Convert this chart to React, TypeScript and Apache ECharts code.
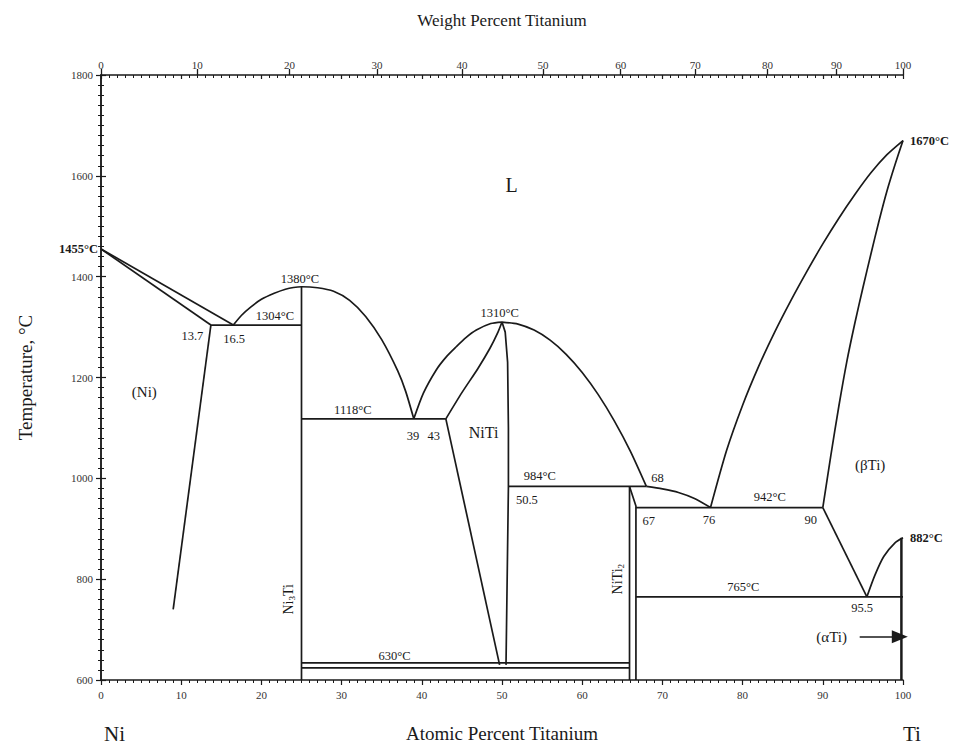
import React, { useEffect, useRef } from "react";
import * as echarts from "echarts";

const FONT = "'Liberation Serif', 'DejaVu Serif', 'Times New Roman', serif";
const INK = "#1a1a1a";

// Axis ticks
const atomicTicks = [0, 10, 20, 30, 40, 50, 60, 70, 80, 90, 100];
const tempTicks = [600, 800, 1000, 1200, 1400, 1600, 1800];
const weightLabels = [0, 10, 20, 30, 40, 50, 60, 70, 80, 90, 100];
// atomic-% positions of the weight-% ticks
const weightTickAtomic = [0, 12.0, 23.5, 34.4, 45.0, 55.1, 64.8, 74.1, 83.1, 91.7, 100];

// Phase boundaries: [atomic % Ti, temperature °C]
const niLiquidus = [[0, 1455], [16.5, 1304]];
const niSolidus = [[0, 1455], [13.7, 1304]];
const niSolvus = [[13.7, 1304], [9.0, 740]];
const eutectic1304 = [[13.7, 1304], [25, 1304]];
const ni3TiLiquidus = [[16.5, 1304], [17.5, 1323], [18.7, 1340], [20, 1355], [21.6, 1367], [23, 1375], [24, 1378.5], [25, 1380], [27, 1378], [29, 1371], [31, 1353], [33, 1321], [35, 1275], [37, 1213], [38, 1172], [39, 1118]];
const ni3TiLine = [[25, 1380], [25, 600]];
const eutectic1118 = [[25, 1118], [43, 1118]];
const niTiLiquidusLeft = [[39, 1118], [40.2, 1169], [41.8, 1215], [43, 1240], [44.3, 1261], [45.5, 1279], [46.8, 1294], [48.6, 1307], [50, 1310]];
const niTiSolidusLeft = [[43, 1118], [45, 1170], [47, 1218], [48.5, 1258], [49.5, 1290], [50, 1310]];
const niTiLeft = [[43, 1118], [49.7, 630]];
const niTiRight = [[50, 1310], [50.4, 1290], [50.7, 1230], [50.8, 1100], [50.8, 984], [50.5, 630]];
const niTiLiquidusRight = [[50, 1310], [52, 1306], [54, 1294], [56, 1274], [58, 1246], [60, 1210], [62, 1166], [64, 1114], [66, 1054], [68, 984]];
const peritectic984 = [[50.8, 984], [68, 984]];
const niTi2Left = [[65.9, 984], [65.9, 600]];
const niTi2Right = [[65.9, 984], [66.7, 945], [66.7, 600]];
const liquidus68to76 = [[68, 984], [70, 979], [72, 972], [74, 960], [76, 942]];
const eutectic942 = [[66.7, 942], [90, 942]];
const betaLiquidus = [[76, 942], [78, 1055], [80, 1145], [82, 1222], [84, 1290], [86, 1352], [88, 1410], [90, 1465], [92, 1516], [94, 1563], [96, 1606], [98, 1642], [100, 1670]];
const betaSolidus = [[90, 942], [91, 1045], [92, 1143], [93, 1232], [94, 1308], [95, 1378], [96, 1445], [97, 1510], [98, 1570], [99, 1622], [100, 1670]];
const betaSolvus = [[90, 942], [95.5, 765]];
const betaTransus = [[95.5, 765], [96.5, 808], [97.6, 845], [99, 872], [100, 882]];
const eutectoid765 = [[66.7, 765], [100, 765]];
const eutectoid630Upper = [[25, 634], [65.9, 634]];
const eutectoid630Lower = [[25, 624], [65.9, 624]];
const alphaTi = [[99.8, 882], [99.8, 600]];
const alphaArrow = [[94.6, 686], [99.6, 686]];

const straightLines = [niLiquidus, niSolidus, niSolvus, eutectic1304, ni3TiLine, eutectic1118, niTiLeft, niTiRight, peritectic984, niTi2Left, niTi2Right, eutectic942, betaSolvus, eutectoid765, eutectoid630Upper, eutectoid630Lower];
const curvedLines = [ni3TiLiquidus, niTiLiquidusLeft, niTiSolidusLeft, niTiLiquidusRight, liquidus68to76, betaLiquidus, betaSolidus, betaTransus];

// Annotations: text placed at [atomic %, °C]
type Ann = { text: string; x: number; y: number; size?: number; bold?: boolean; rotate?: boolean; align?: string };
const annotations: Ann[] = [
  { text: "1455°C", x: 0, y: 1455, bold: true, align: "right" },
  { text: "1670°C", x: 100, y: 1670, bold: true, align: "left" },
  { text: "882°C", x: 100, y: 882, bold: true, align: "left" },
  { text: "L", x: 51.2, y: 1582, size: 20 },
  { text: "1380°C", x: 24.8, y: 1396 },
  { text: "1304°C", x: 21.7, y: 1322 },
  { text: "13.7", x: 11.4, y: 1282 },
  { text: "16.5", x: 16.6, y: 1276 },
  { text: "(Ni)", x: 5.4, y: 1171, size: 15 },
  { text: "1118°C", x: 31.4, y: 1136 },
  { text: "39", x: 38.9, y: 1084 },
  { text: "43", x: 41.5, y: 1084 },
  { text: "NiTi", x: 47.7, y: 1090, size: 16 },
  { text: "1310°C", x: 49.7, y: 1328 },
  { text: "984°C", x: 54.7, y: 1004 },
  { text: "50.5", x: 53.1, y: 957 },
  { text: "68", x: 69.4, y: 1000 },
  { text: "67", x: 68.3, y: 915 },
  { text: "76", x: 75.8, y: 917 },
  { text: "942°C", x: 83.4, y: 962 },
  { text: "90", x: 88.5, y: 917 },
  { text: "(βTi)", x: 95.9, y: 1027, size: 15 },
  { text: "765°C", x: 80.1, y: 785 },
  { text: "95.5", x: 94.9, y: 742 },
  { text: "(αTi)", x: 91.1, y: 686, size: 15 },
  { text: "630°C", x: 36.6, y: 648 },
  { text: "Ni{s|3}Ti", x: 23.4, y: 760, rotate: true, size: 14 },
  { text: "NiTi{s|2}", x: 64.4, y: 800, rotate: true, size: 14 },
];

export default function App() {
  const ref = useRef<HTMLDivElement>(null);
  useEffect(() => {
    if (!ref.current) return;
    const chart = echarts.init(ref.current, null, { renderer: "svg" });
    const lineSeries = (data: number[][], smooth: boolean) => ({
      type: "line",
      data,
      xAxisIndex: 0,
      yAxisIndex: 0,
      showSymbol: false,
      symbol: "none",
      smooth: smooth ? 0.25 : false,
      clip: false,
      silent: true,
      lineStyle: { color: INK, width: 1.7 },
    });
    const series: any[] = [
      ...straightLines.map((d) => lineSeries(d, false)),
      ...curvedLines.map((d) => lineSeries(d, true)),
      {
        type: "line",
        data: alphaTi,
        showSymbol: false,
        symbol: "none",
        clip: false,
        silent: true,
        lineStyle: { color: INK, width: 2.5 },
      },
      {
        type: "line",
        data: [],
        silent: true,
        markLine: {
          silent: true,
          symbol: ["none", "triangle"],
          symbolSize: [13, 16],
          label: { show: false },
          itemStyle: { color: INK },
          lineStyle: { color: INK, width: 1.7, type: "solid" },
          data: [[{ coord: alphaArrow[0] }, { coord: alphaArrow[1] }]],
        },
      },
      {
        type: "custom",
        clip: false,
        silent: true,
        data: annotations.map((a) => [a.x, a.y]),
        renderItem: (params: any, api: any) => {
          const a = annotations[params.dataIndex];
          const p = api.coord([a.x, a.y]);
          let x = p[0];
          if (a.align === "right") x -= 3;
          if (a.align === "left") x += 7;
          const size = a.size || 12.5;
          return {
            type: "text",
            x,
            y: p[1],
            rotation: a.rotate ? Math.PI / 2 : 0,
            style: {
              text: a.text,
              fontFamily: FONT,
              fontSize: size,
              fontWeight: a.bold ? "bold" : "normal",
              fill: INK,
              align: a.align || "center",
              verticalAlign: "middle",
              rich: {
                s: { fontSize: size * 0.65, fontFamily: FONT, fill: INK, padding: [size * 0.5, 0, 0, 0] },
              },
            },
          };
        },
      },
    ];

    const axisLineStyle = { color: INK, width: 1.5 };
    chart.setOption({
      animation: false,
      backgroundColor: "#ffffff",
      grid: { left: 101, right: 61, top: 75, bottom: 69, containLabel: false },
      xAxis: [
        {
          type: "value",
          position: "bottom",
          min: 0,
          max: 100,
          interval: 10,
          axisLine: { show: true, lineStyle: axisLineStyle },
          axisTick: { show: true, length: 5, lineStyle: { color: INK, width: 1.2 } },
          minorTick: { show: true, splitNumber: 10, length: 3, lineStyle: { color: INK, width: 1 } },
          splitLine: { show: false },
          axisLabel: {
            fontFamily: FONT,
            fontSize: 11,
            color: "#333",
            margin: 9,
            customValues: atomicTicks,
            formatter: (v: number) => String(v),
          },
          name: "Atomic Percent Titanium",
          nameLocation: "middle",
          nameGap: 44,
          nameTextStyle: { fontFamily: FONT, fontSize: 19, color: INK },
        },
        {
          type: "value",
          position: "top",
          min: 0,
          max: 100,
          interval: 10,
          axisLine: { show: true, lineStyle: axisLineStyle },
          axisTick: { show: true, inside: true, length: 4, lineStyle: { color: INK, width: 1.2 } },
          minorTick: { show: true, splitNumber: 10, length: 3, lineStyle: { color: INK, width: 1 } },
          splitLine: { show: false },
          axisLabel: { show: false },
        },
        {
          type: "value",
          position: "top",
          min: 0,
          max: 100,
          axisLine: { show: false },
          axisTick: { show: true, length: 6, customValues: weightTickAtomic, lineStyle: { color: INK, width: 1.3 } },
          splitLine: { show: false },
          axisLabel: {
            fontFamily: FONT,
            fontSize: 11,
            color: "#333",
            margin: 5,
            customValues: weightTickAtomic,
            formatter: (v: number) => {
              let best = 0;
              weightTickAtomic.forEach((t, i) => {
                if (Math.abs(t - v) < Math.abs(weightTickAtomic[best] - v)) best = i;
              });
              return String(weightLabels[best]);
            },
          },
          name: "Weight Percent Titanium",
          nameLocation: "middle",
          nameGap: 46,
          nameTextStyle: { fontFamily: FONT, fontSize: 17, color: INK },
        },
      ],
      yAxis: [
        {
          type: "value",
          position: "left",
          min: 600,
          max: 1800,
          interval: 200,
          axisLine: { show: true, lineStyle: axisLineStyle },
          axisTick: { show: true, length: 5, lineStyle: { color: INK, width: 1.2 } },
          minorTick: { show: true, splitNumber: 10, length: 3, lineStyle: { color: INK, width: 1 } },
          splitLine: { show: false },
          axisLabel: {
            fontFamily: FONT,
            fontSize: 11,
            color: "#333",
            margin: 8,
            customValues: tempTicks,
            formatter: (v: number) => String(v),
          },
          name: "Temperature, °C",
          nameLocation: "middle",
          nameRotate: 90,
          nameGap: 66,
          nameTextStyle: { fontFamily: FONT, fontSize: 19, color: INK },
        },
        {
          type: "value",
          position: "right",
          min: 600,
          max: 1800,
          interval: 200,
          axisLine: { show: true, lineStyle: axisLineStyle },
          axisTick: { show: true, length: 5, lineStyle: { color: INK, width: 1.2 } },
          minorTick: { show: true, splitNumber: 10, length: 3, lineStyle: { color: INK, width: 1 } },
          splitLine: { show: false },
          axisLabel: { show: false },
        },
      ],
      graphic: [
        { type: "text", left: 104, top: 723, style: { text: "Ni", fontFamily: FONT, fontSize: 21, fill: INK } },
        { type: "text", left: 903, top: 723, style: { text: "Ti", fontFamily: FONT, fontSize: 21, fill: INK } },
      ],
      series,
    });
    return () => chart.dispose();
  }, []);
  return <div ref={ref} style={{ width: 964, height: 749, margin: -8 }} />;
}
